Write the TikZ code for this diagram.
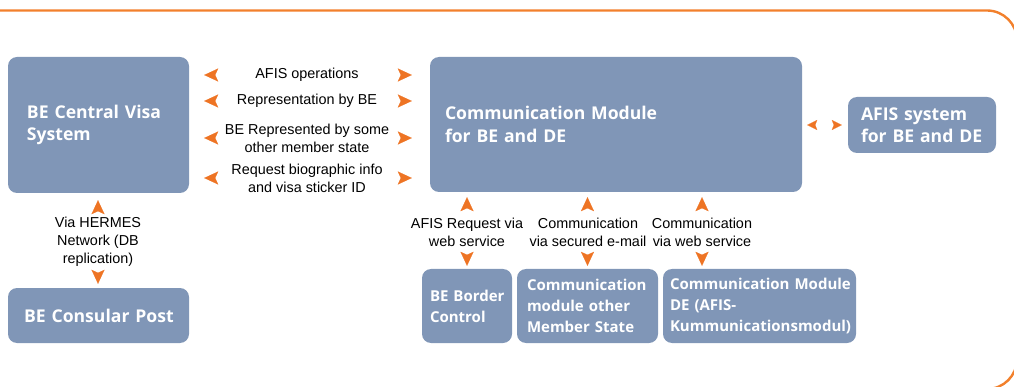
\documentclass[tikz,border=0pt]{standalone}
\usepackage{fontspec}
\setmainfont{Liberation Sans}
\newfontfamily\boxfont{Open Sans}[BoldFont={* Bold}]
\usetikzlibrary{arrows.meta}
\pgfdeclarelayer{background}
\pgfsetlayers{background,main}
\definecolor{boxblue}{RGB}{128,150,183}
\definecolor{myorange}{RGB}{238,116,36}
\definecolor{borderorange}{RGB}{242,128,44}
\begin{document}
\begin{tikzpicture}[x=1pt,y=-1pt,
  sysbox/.style={fill=boxblue, rounded corners=9pt, draw=none, text=white,
    font=\boxfont\bfseries\fontsize{17.6}{22.5}\selectfont, align=left,
    inner ysep=0pt, anchor=center,
    execute at begin node={\hyphenpenalty=10000\exhyphenpenalty=10000}},
  smallbox/.style={sysbox, font=\boxfont\bfseries\fontsize{15}{21}\selectfont},
  lbl/.style={font=\fontsize{14.4}{18}\selectfont, align=center, inner sep=0pt, anchor=center},
  tipo/.tip={Stealth[length=14pt, width=13pt, inset=3pt, color=myorange]},
  tips/.tip={Stealth[length=10pt, width=10pt, inset=2pt, color=myorange]},
  conn/.style={draw=white, line width=0.1pt, {tipo}-{tipo}},
  connsmall/.style={draw=white, line width=0.1pt, {tips}-{tips}}
]
\clip (0,0) rectangle (1014,387);
\useasboundingbox (0,0) rectangle (1014,387);
\draw[borderorange, line width=2.4pt, rounded corners=30pt] (-40,10.5) rectangle (1017,389);

% boxes
\node[sysbox, minimum width=181pt, minimum height=136pt, text width=143pt, inner xsep=19pt] (cvs) at (98.5,125) {BE~Central~Visa\\System};
\node[sysbox, minimum width=181pt, minimum height=55pt, text width=149pt, inner xsep=16pt] (cp) at (98.5,315.5) {BE~Consular~Post};
\node[sysbox, minimum width=372pt, minimum height=135pt, text width=342pt, inner xsep=15pt] (cm) at (616,124.5) {Communication~Module\\for~BE~and~DE};
\node[sysbox, minimum width=148pt, minimum height=56pt, text width=122pt, inner xsep=13pt] (afis) at (922,125) {AFIS~system\\for~BE~and~DE};
\node[smallbox, minimum width=90pt, minimum height=74pt, text width=74pt, inner xsep=8pt] (bc) at (467,306) {BE~Border\\Control};
\node[smallbox, minimum width=141pt, minimum height=74pt, text width=121pt, inner xsep=10pt] (ms) at (587.5,306) {Communication\\module~other\\Member~State};
\node[smallbox, minimum width=193pt, minimum height=74pt, text width=179pt, inner xsep=7pt] (de) at (759.5,306) {Communication~Module\\DE~(AFIS-\\Kummunicationsmodul)};

% labels
\node[lbl] (l1) at (307,75) {AFIS operations};
\node[lbl] (l2) at (307,101) {Representation by BE};
\node[lbl] (l3) at (307,138) {BE Represented by some\\other member state};
\node[lbl] (l4) at (307,178) {Request biographic info\\and visa sticker ID};
\node[lbl] (lh) at (98,242) {Via HERMES\\Network (DB\\replication)};
\node[lbl] (lbc) at (467,232) {AFIS Request via\\web service};
\node[lbl] (lms) at (588,232.5) {Communication\\via secured e-mail};
\node[lbl] (lde) at (702,232) {Communication\\via web service};

% connectors (shafts invisible, only heads shown)
\begin{pgfonlayer}{background}
\foreach \r in {l1,l2,l3,l4}{
  \draw[conn, shorten <=15pt, shorten >=18pt] (cvs.east |- \r) -- (cm.west |- \r);
}
\draw[conn, shorten <=7pt, shorten >=4pt] (cvs.south -| lh) -- (cp.north -| lh);
\draw[conn, shorten <=5pt, shorten >=3pt] (cm.south -| bc) -- (bc.north);
\draw[conn, shorten <=5pt, shorten >=3pt] (cm.south -| ms) -- (ms.north);
\draw[conn, shorten <=5pt, shorten >=3pt] (cm.south -| lde) -- (de.north -| lde);
\draw[connsmall, shorten <=5pt, shorten >=6pt] (cm.east |- afis) -- (afis.west);
\end{pgfonlayer}
\end{tikzpicture}
\end{document}
